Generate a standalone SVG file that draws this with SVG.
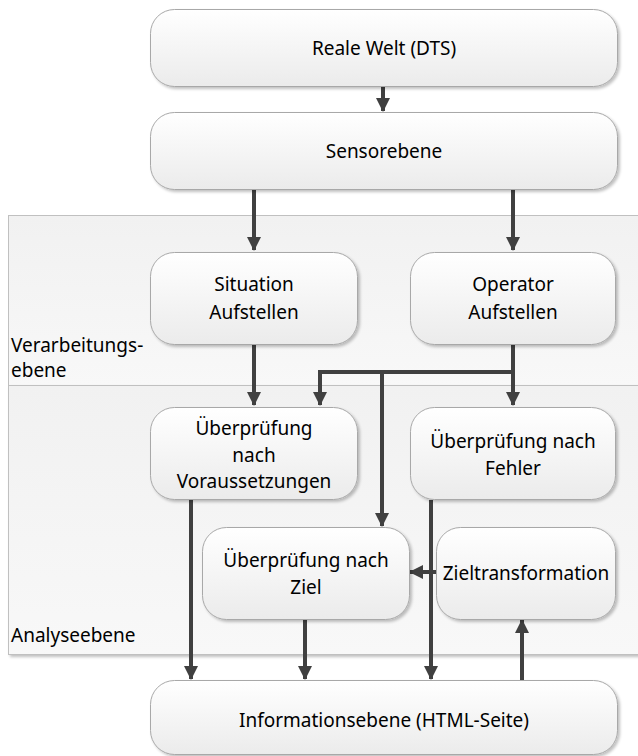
<svg xmlns="http://www.w3.org/2000/svg" width="638" height="756" viewBox="0 0 638 756">
  <defs>
    <linearGradient id="boxFill" x1="0" y1="0" x2="0" y2="1">
      <stop offset="0" stop-color="#ffffff"/>
      <stop offset="1" stop-color="#ebebeb"/>
    </linearGradient>
    <linearGradient id="laneFill" x1="0" y1="0" x2="0" y2="1">
      <stop offset="0" stop-color="#f1f1f1"/>
      <stop offset="1" stop-color="#f8f8f8"/>
    </linearGradient>
    <filter id="shadow" x="-10%" y="-10%" width="125%" height="130%">
      <feGaussianBlur in="SourceAlpha" stdDeviation="1.5"/>
      <feOffset dx="1.5" dy="2" result="b"/>
      <feComponentTransfer><feFuncA type="linear" slope="0.25"/></feComponentTransfer>
      <feMerge><feMergeNode/><feMergeNode in="SourceGraphic"/></feMerge>
    </filter>
    <marker id="arrow" markerUnits="userSpaceOnUse" markerWidth="16" markerHeight="16" viewBox="0 0 16 16" refX="14" refY="8" orient="auto">
      <path d="M1,1 L15,8 L1,15 Z" fill="#404040"/>
    </marker>
  </defs>
  <style>
    .lane { fill: url(#laneFill); stroke: #c0c0c0; stroke-width: 1; }
    .box { fill: url(#boxFill); stroke: #a8a8a8; stroke-width: 1; filter: url(#shadow); }
    .lbl { font-family: "Noto Sans", "Open Sans", sans-serif; font-size: 19px; fill: #000; text-anchor: middle; }
    .lanelbl { font-family: "Noto Sans", "Open Sans", sans-serif; font-size: 19px; fill: #000; }
    .conn { fill: none; stroke: #404040; stroke-width: 4; }
    .arr { marker-end: url(#arrow); }
  </style>

  <!-- swim lanes -->
  <g id="lane-verarbeitung">
    <rect class="lane" x="8.5" y="215.5" width="640" height="170"/>
    <text class="lanelbl" x="11" y="352">Verarbeitungs-</text>
    <text class="lanelbl" x="11" y="377">ebene</text>
  </g>
  <g id="lane-analyse">
    <rect class="lane" x="8.5" y="385.5" width="640" height="269" filter="url(#shadow)"/>
    <text class="lanelbl" x="11" y="642">Analyseebene</text>
  </g>

  <!-- connectors -->
  <g id="connectors">
    <path class="conn arr" d="M383,87 V111"/>
    <path class="conn arr" d="M254,190 V250"/>
    <path class="conn arr" d="M513,190 V250"/>
    <path class="conn arr" d="M254,345 V405"/>
    <path class="conn" d="M513,345 V372 M320,372 H515"/>
    <path class="conn arr" d="M320,370 V405"/>
    <path class="conn arr" d="M382,370 V526"/>
    <path class="conn arr" d="M513,370 V405"/>
    <path class="conn arr" d="M436,572 H410"/>
    <path class="conn arr" d="M191,500 V679"/>
    <path class="conn arr" d="M305,619 V679"/>
    <path class="conn arr" d="M431,500 V679"/>
    <path class="conn arr" d="M522,680 V620"/>
  </g>

  <!-- nodes -->
  <g id="reale-welt">
    <rect class="box" x="150.5" y="9.5" width="467" height="77" rx="24"/>
    <text class="lbl" x="384" y="55">Reale Welt (DTS)</text>
  </g>
  <g id="sensorebene">
    <rect class="box" x="150.5" y="112.5" width="467" height="77" rx="24"/>
    <text class="lbl" x="384" y="158">Sensorebene</text>
  </g>
  <g id="situation">
    <rect class="box" x="150.5" y="252.5" width="207" height="92" rx="24"/>
    <text class="lbl" x="254" y="291">Situation</text>
    <text class="lbl" x="254" y="319">Aufstellen</text>
  </g>
  <g id="operator">
    <rect class="box" x="410.5" y="252.5" width="205" height="92" rx="24"/>
    <text class="lbl" x="513" y="291">Operator</text>
    <text class="lbl" x="513" y="319">Aufstellen</text>
  </g>
  <g id="voraussetzungen">
    <rect class="box" x="150.5" y="407.5" width="207" height="92" rx="24"/>
    <text class="lbl" x="254" y="435">Überprüfung</text>
    <text class="lbl" x="254" y="462">nach</text>
    <text class="lbl" x="254" y="488">Voraussetzungen</text>
  </g>
  <g id="fehler">
    <rect class="box" x="410.5" y="407.5" width="205" height="92" rx="24"/>
    <text class="lbl" x="513" y="448">Überprüfung nach</text>
    <text class="lbl" x="513" y="475">Fehler</text>
  </g>
  <g id="ziel">
    <rect class="box" x="202.5" y="527.5" width="207" height="92" rx="24"/>
    <text class="lbl" x="306" y="567">Überprüfung nach</text>
    <text class="lbl" x="306" y="594">Ziel</text>
  </g>
  <g id="zieltransformation">
    <rect class="box" x="436.5" y="527.5" width="179" height="92" rx="24"/>
    <text class="lbl" x="526" y="580">Zieltransformation</text>
  </g>
  <g id="informationsebene">
    <rect class="box" x="150.5" y="680.5" width="467" height="74" rx="24"/>
    <text class="lbl" x="384" y="727">Informationsebene (HTML-Seite)</text>
  </g>
</svg>
